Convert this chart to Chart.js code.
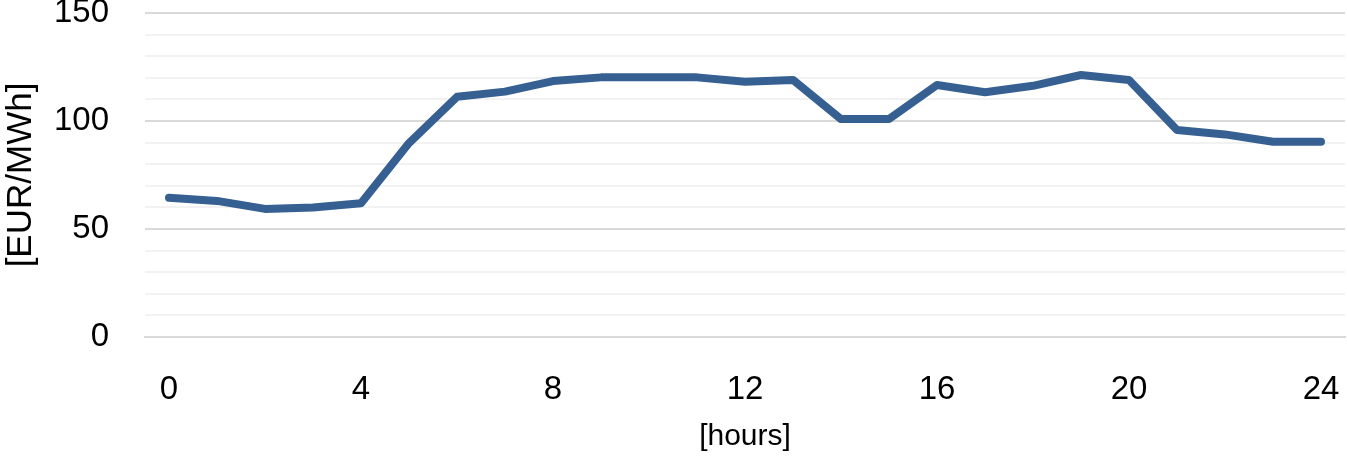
<!DOCTYPE html>
<html>
<head>
<meta charset="utf-8">
<script src="https://cdn.jsdelivr.net/npm/chart.js@4/dist/chart.umd.min.js"></script>
<style>
  html, body { margin: 0; padding: 0; background: #fff; }
  #wrap { width: 1347px; height: 456px; }
</style>
</head>
<body>
<div id="wrap"><canvas id="priceChart" width="1347" height="456"></canvas></div>
<script>
// hours of the day
const hours = ["0","1","2","3","4","5","6","7","8","9","10","11","12",
  "13","14","15","16","17","18","19","20","21","22","23","24"];
// price per hour
const prices = [64.5, 63, 59.3, 60, 61.9, 89.8, 111.2, 113.6, 118.5, 120.2, 120.2, 120.2,
  118.2, 119, 100.9, 100.9, 116.7, 113.3, 116.3, 121.3, 119, 95.8, 93.8, 90.4, 90.4];
const yLabels = [0, 50, 100, 150];

const font = "'Liberation Sans', Arial, sans-serif";

new Chart(document.getElementById("priceChart"), {
  type: "line",
  data: {
    labels: hours,
    datasets: [{
      data: prices,
      borderColor: "#376092",
      borderWidth: 8,
      borderCapStyle: "round",
      borderJoinStyle: "round",
      pointRadius: 0,
      tension: 0,
      fill: false
    }]
  },
  options: {
    responsive: false,
    animation: false,
    layout: { padding: { top: 13, right: 2, left: 0, bottom: 0 } },
    plugins: { legend: { display: false }, tooltip: { enabled: false } },
    scales: {
      x: {
        offset: true,
        grid: { display: false },
        border: { color: "#d9d9d9", width: 2 },
        ticks: {
          autoSkip: false,
          maxRotation: 0,
          padding: 25,
          color: "#000",
          font: { family: font, size: 33 },
          callback: (v, i) => (i % 4 === 0 ? hours[i] : "")
        },
        title: {
          display: true,
          text: "[hours]",
          color: "#000",
          font: { family: font, size: 30 },
          padding: { top: 4, bottom: 1 }
        },
        afterFit: (s) => {
          s.height = 119;
          s.paddingLeft = 0;
          s.paddingRight = 0;
        }
      },
      y: {
        min: 0,
        max: 150,
        border: { display: false },
        grid: {
          lineWidth: 2,
          drawTicks: false,
          color: (c) => (yLabels.includes(c.tick.value) ? "#d9d9d9" : "#f2f2f2")
        },
        ticks: {
          stepSize: 10,
          autoSkip: false,
          padding: 36,
          color: "#000",
          font: { family: font, size: 33 },
          callback: (v) => (yLabels.includes(v) ? v : "")
        },
        title: {
          display: true,
          text: "[EUR/MWh]",
          color: "#000",
          font: { family: font, size: 35 },
          padding: { top: 0, bottom: 0 }
        },
        afterFit: (s) => {
          s.width = 145;
          s.paddingTop = 0;
          s.paddingBottom = 0;
        }
      }
    }
  }
});
</script>
</body>
</html>
